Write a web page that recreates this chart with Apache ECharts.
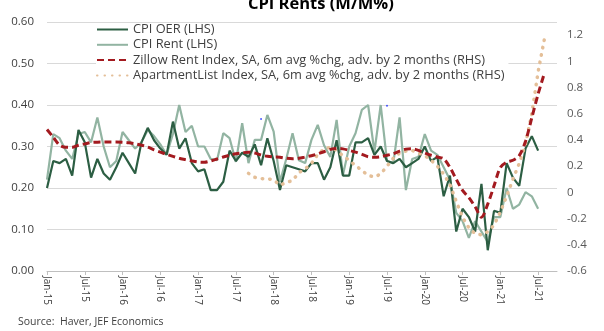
<!DOCTYPE html>
<html>
<head>
<meta charset="utf-8">
<script src="https://cdn.jsdelivr.net/npm/echarts@6/dist/echarts.min.js"></script>
<style>
  html, body { margin: 0; padding: 0; background: #fff; }
  #chart { width: 604px; height: 331px; }
</style>
</head>
<body>
<div id="chart"></div>
<script>
// Monthly categories, Jan-15 through Oct-21
const monthNames = ['Jan','Feb','Mar','Apr','May','Jun','Jul','Aug','Sep','Oct','Nov','Dec'];
const startYear = 15;
const monthCount = 82;
const categories = [];
for (let i = 0; i < monthCount; i++) {
  categories.push(monthNames[i % 12] + '-' + (startYear + Math.floor(i / 12)));
}

// CPI OER, m/m % (LHS)
const cpiOer = [
  0.20, 0.265, 0.26, 0.27, 0.23, 0.34, 0.31, 0.225, 0.27, 0.235,
  0.22, 0.25, 0.285, 0.26, 0.235, 0.31, 0.345, 0.315, 0.295, 0.28,
  0.36, 0.295, 0.32, 0.26, 0.24, 0.245, 0.195, 0.195, 0.215, 0.29,
  0.265, 0.285, 0.275, 0.305, 0.255, 0.32, 0.265, 0.195, 0.255, 0.25,
  0.245, 0.24, 0.26, 0.26, 0.22, 0.25, 0.315, 0.23, 0.23, 0.31,
  0.31, 0.32, 0.28, 0.30, 0.265, 0.26, 0.27, 0.25, 0.26, 0.27,
  0.30, 0.265, 0.275, 0.18, 0.23, 0.095, 0.15, 0.13, 0.095, 0.21,
  0.05, 0.145, 0.14, 0.26, 0.225, 0.205, 0.295, 0.325, 0.29
];

// CPI Rent, m/m % (LHS)
const cpiRent = [
  0.22, 0.33, 0.32, 0.29, 0.27, 0.33, 0.335, 0.31, 0.37, 0.30,
  0.25, 0.265, 0.335, 0.315, 0.295, 0.31, 0.34, 0.325, 0.305, 0.28,
  0.33, 0.40, 0.335, 0.35, 0.30, 0.30, 0.27, 0.267, 0.332, 0.32,
  0.263, 0.356, 0.26, 0.316, 0.316, 0.376, 0.336, 0.215, 0.27, 0.332,
  0.267, 0.26, 0.316, 0.352, 0.303, 0.275, 0.364, 0.231, 0.30, 0.332,
  0.388, 0.40, 0.287, 0.40, 0.265, 0.26, 0.37, 0.195, 0.27, 0.275,
  0.33, 0.29, 0.28, 0.25, 0.22, 0.14, 0.12, 0.08, 0.12, 0.095,
  0.07, 0.13, 0.13, 0.20, 0.15, 0.16, 0.19, 0.18, 0.15
];

// Zillow Rent Index, 6m avg % chg, advanced 2 months (RHS)
const zillow = [
  0.48, 0.42, 0.36, 0.345, 0.345, 0.36, 0.37, 0.38, 0.383, 0.385,
  0.385, 0.385, 0.383, 0.378, 0.37, 0.36, 0.345, 0.325, 0.307, 0.29,
  0.275, 0.26, 0.25, 0.24, 0.232, 0.23, 0.24, 0.255, 0.27, 0.283,
  0.294, 0.302, 0.307, 0.30, 0.285, 0.275, 0.27, 0.268, 0.26, 0.256,
  0.26, 0.27, 0.28, 0.294, 0.31, 0.328, 0.335, 0.332, 0.32, 0.307,
  0.29, 0.272, 0.268, 0.272, 0.283, 0.295, 0.315, 0.33, 0.332, 0.32,
  0.30, 0.283, 0.27, 0.256, 0.19, 0.10, 0.015, -0.04, -0.11, -0.19,
  -0.09, 0.05, 0.19, 0.23, 0.245, 0.28, 0.39, 0.57, 0.75, 0.91
];

// ApartmentList Index, 6m avg % chg, advanced 2 months (RHS); starts Sep-17
const aptListStart = 32;
const aptList = [
  0.145, 0.115, 0.105, 0.104, 0.095, 0.055, 0.075, 0.09, 0.15, 0.18,
  0.22, 0.29, 0.33, 0.345, 0.32, 0.28, 0.245, 0.205, 0.167, 0.13,
  0.117, 0.14, 0.20, 0.26, 0.30, 0.315, 0.32, 0.30, 0.28, 0.245,
  0.20, 0.14, 0.06, -0.07, -0.19, -0.27, -0.315, -0.325, -0.30, -0.25,
  -0.15, -0.03, 0.10, 0.22, 0.37, 0.60, 0.92, 1.17
];

// Small point markers on the LHS scale
const markerPoints = [['Nov-17', 0.366], ['Jul-19', 0.398]];

const leftTicks = { min: 0, max: 0.6, step: 0.1 };
const rightTicks = { min: -0.6, max: 1.3, step: 0.2 };

const aptSeries = new Array(aptListStart).fill(null).concat(aptList);

const font = '"Open Sans", Lato, sans-serif';
const chart = echarts.init(document.getElementById('chart'), null, { renderer: 'canvas' });

chart.setOption({
  animation: false,
  backgroundColor: '#ffffff',
  title: {
    text: 'CPI Rents (M/M%)',
    left: 243,
    top: -9,
    textStyle: { fontFamily: font, fontWeight: 'bold', fontSize: 16.5, color: '#000' }
  },
  legend: {
    orient: 'vertical',
    left: 96,
    top: 23,
    itemWidth: 31,
    itemHeight: 12,
    itemGap: 2.3,
    padding: [0, 4, 0, 0],
    backgroundColor: '#ffffff',
    itemStyle: { opacity: 0 },
    textStyle: { fontFamily: font, fontSize: 12.8, color: '#404040' },
    data: [
      'CPI OER (LHS)',
      'CPI Rent (LHS)',
      'Zillow Rent Index, SA, 6m avg %chg, adv. by 2 months (RHS)',
      'ApartmentList Index, SA, 6m avg %chg, adv. by 2 months (RHS)'
    ]
  },
  grid: { left: 47, right: 47, top: 22, bottom: 60 },
  xAxis: {
    type: 'category',
    data: categories,
    boundaryGap: false,
    axisLine: { lineStyle: { color: '#bfbfbf' } },
    axisTick: {
      length: 4,
      interval: (i) => i % 6 === 0,
      lineStyle: { color: '#bfbfbf' }
    },
    axisLabel: {
      interval: (i) => i % 6 === 0,
      rotate: -90,
      margin: 5,
      fontFamily: font,
      fontSize: 10,
      color: '#404040'
    }
  },
  yAxis: [
    {
      type: 'value',
      min: leftTicks.min,
      max: leftTicks.max,
      interval: leftTicks.step,
      axisLine: { show: false },
      axisTick: { show: false },
      splitLine: { lineStyle: { color: '#d9d9d9' } },
      axisLabel: {
        margin: 13,
        fontFamily: font,
        fontSize: 11.5,
        color: '#404040',
        formatter: (v) => v.toFixed(2)
      }
    },
    {
      type: 'value',
      position: 'right',
      min: rightTicks.min,
      max: rightTicks.max,
      interval: rightTicks.step,
      axisLine: { show: false },
      axisTick: { show: false },
      splitLine: { show: false },
      axisLabel: {
        margin: 10,
        showMaxLabel: false,
        fontFamily: font,
        fontSize: 11.5,
        color: '#595959',
        formatter: (v) => String(parseFloat(v.toFixed(1)))
      }
    }
  ],
  series: [
    {
      name: 'CPI Rent (LHS)',
      type: 'line',
      data: cpiRent,
      yAxisIndex: 0,
      symbol: 'none',
      lineStyle: { color: '#92b4a2', width: 2.2 },
      itemStyle: { color: '#92b4a2' },
      z: 2
    },
    {
      name: 'CPI OER (LHS)',
      type: 'line',
      data: cpiOer,
      yAxisIndex: 0,
      symbol: 'none',
      lineStyle: { color: '#2c5e43', width: 2.2 },
      itemStyle: { color: '#2c5e43' },
      z: 3
    },
    {
      name: 'ApartmentList Index, SA, 6m avg %chg, adv. by 2 months (RHS)',
      type: 'line',
      data: aptSeries,
      yAxisIndex: 1,
      symbol: 'none',
      lineStyle: { color: '#e4bf98', width: 3.5, type: [0.5, 7], cap: 'round' },
      itemStyle: { color: '#e4bf98' },
      z: 4
    },
    {
      name: 'Zillow Rent Index, SA, 6m avg %chg, adv. by 2 months (RHS)',
      type: 'line',
      data: zillow,
      yAxisIndex: 1,
      symbol: 'none',
      smooth: 0.3,
      lineStyle: { color: '#a31a1f', width: 3, type: [7, 4] },
      itemStyle: { color: '#a31a1f' },
      z: 5
    },
    {
      name: 'markers',
      type: 'scatter',
      data: markerPoints,
      yAxisIndex: 0,
      symbol: 'circle',
      symbolSize: 2,
      itemStyle: { color: '#1f2fff' },
      z: 6
    }
  ],
  graphic: [
    {
      type: 'text',
      left: 18,
      top: 317,
      style: {
        text: 'Source:  Haver, JEF Economics',
        fontFamily: font,
        fontSize: 10.5,
        fill: '#404040'
      }
    }
  ]
});
</script>
</body>
</html>
